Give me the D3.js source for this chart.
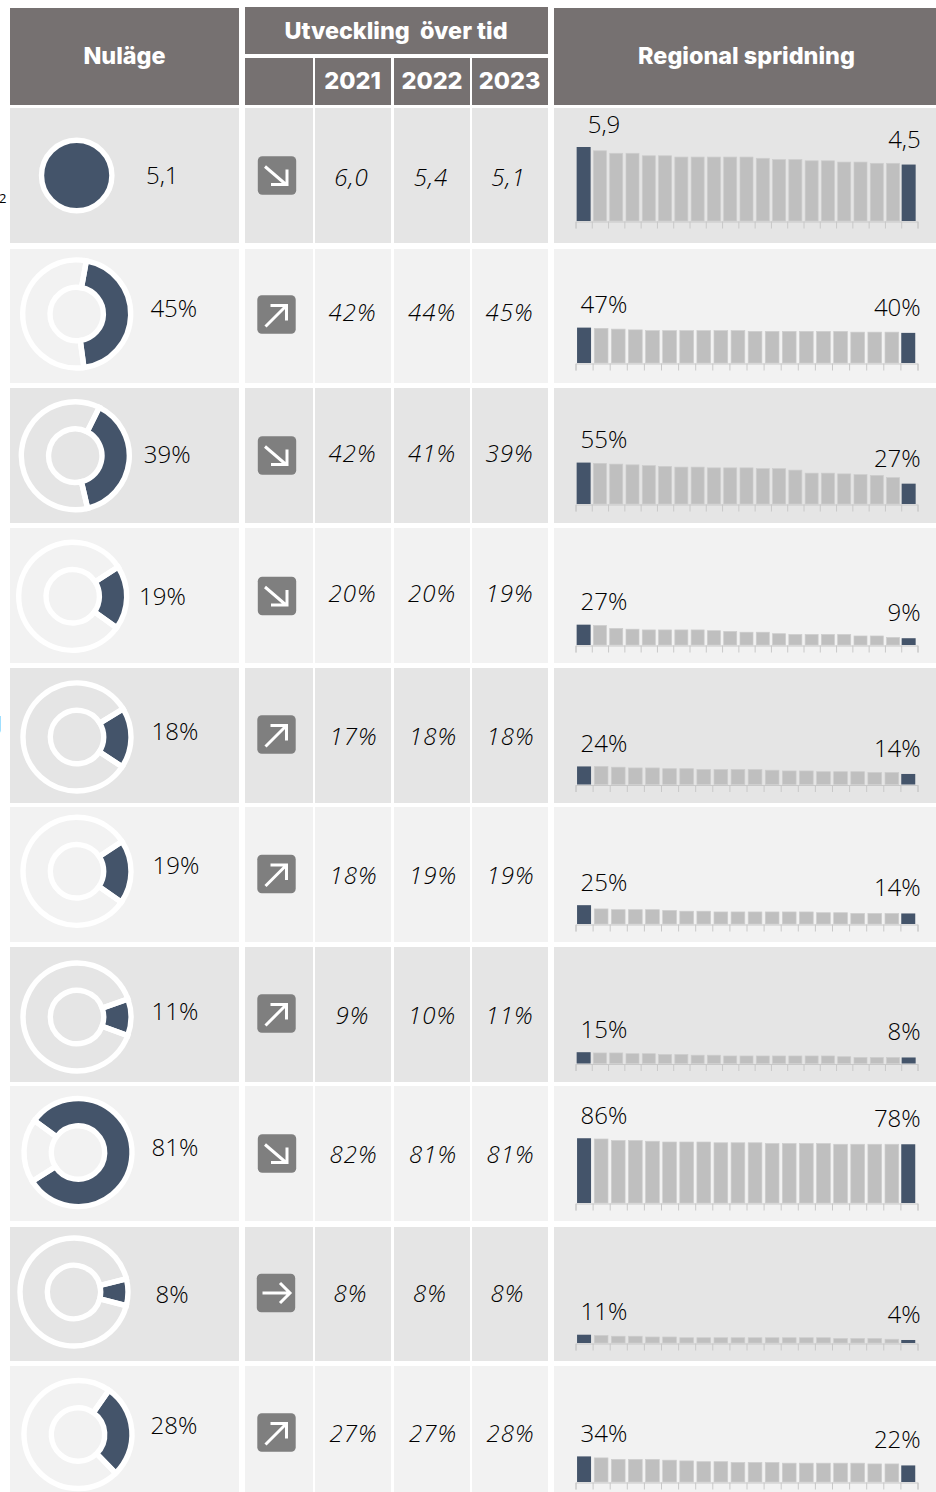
<!DOCTYPE html>
<html lang="sv">
<head>
  <meta charset="UTF-8" />
  <title>Nuläge, utveckling över tid och regional spridning</title>
  <script src="https://d3js.org/d3.v7.min.js"></script>
  <style>
    body { margin: 0; background: #fff; overflow: hidden; }
    svg { display: block; }
    text { font-family: "Open Sans", sans-serif; fill: #000; }
    .value { font-size: 24px; font-weight: 350; }
    .year-value { font-size: 24px; font-weight: 350; font-style: italic; letter-spacing: 1px; text-anchor: middle; }
    .head { font-family: "Inter", sans-serif; font-weight: 800; fill: #fff; text-anchor: middle; white-space: pre; }
    .axis path, .axis line { stroke: #c8c8c8; stroke-width: 1; }
  </style>
</head>
<body>
<svg id="chart" width="936" height="1492"></svg>

<script>
// data
const nowLabels = ["5,1", "45%", "39%", "19%", "18%", "19%", "11%", "81%", "8%", "28%"];
const nowShares = [100, 45, 39, 19, 18, 19, 11, 81, 8, 28];
const trends = ["down", "up", "down", "down", "up", "up", "up", "down", "flat", "up"];
const years = ["2021", "2022", "2023"];
const yearLabels = [
  ["6,0", "5,4", "5,1"],
  ["42%", "44%", "45%"],
  ["42%", "41%", "39%"],
  ["20%", "20%", "19%"],
  ["17%", "18%", "18%"],
  ["18%", "19%", "19%"],
  ["9%", "10%", "11%"],
  ["82%", "81%", "81%"],
  ["8%", "8%", "8%"],
  ["27%", "27%", "28%"]
];
const regionLabels = [
  ["5,9", "4,5"], ["47%", "40%"], ["55%", "27%"], ["27%", "9%"], ["24%", "14%"],
  ["25%", "14%"], ["15%", "8%"], ["86%", "78%"], ["11%", "4%"], ["34%", "22%"]
];
const regionValues = [
  [5.9, 5.6, 5.4, 5.4, 5.2, 5.2, 5.1, 5.1, 5.1, 5.1, 5.1, 5.0, 4.9, 4.9, 4.8, 4.8, 4.7, 4.7, 4.6, 4.6, 4.5],
  [47, 46, 45, 44, 43, 43, 43, 43, 43, 43, 42, 42, 42, 42, 42, 42, 41, 41, 41, 40],
  [55, 54, 53, 52, 51, 50, 49, 49, 48, 48, 48, 47, 47, 45, 41, 41, 40, 39, 38, 35, 27],
  [27, 26, 22, 21, 20, 20, 20, 20, 19, 18, 17, 17, 15, 14, 14, 14, 14, 12, 12, 10, 9],
  [24, 24, 23, 22, 22, 21, 21, 20, 20, 20, 20, 19, 18, 18, 17, 17, 17, 16, 16, 14],
  [25, 20, 19, 19, 19, 18, 17, 17, 16, 16, 16, 16, 16, 16, 15, 15, 14, 14, 14, 14],
  [15, 14, 14, 13, 13, 12, 12, 11, 11, 10, 10, 10, 10, 10, 10, 10, 9, 8, 8, 8, 8],
  [86, 85, 83, 83, 82, 81, 81, 81, 80, 80, 80, 79, 79, 79, 79, 78, 78, 78, 78, 78],
  [11, 10, 9, 9, 8, 8, 7, 7, 7, 7, 7, 7, 7, 7, 7, 6, 6, 6, 5, 4],
  [34, 32, 30, 30, 30, 29, 28, 27, 27, 26, 26, 26, 25, 25, 25, 25, 25, 24, 24, 22]
];

// layout, one entry per row
const rowTop = [108, 249, 388, 528, 668, 807, 947, 1086, 1227, 1366];
const rowBottom = [243, 383, 523, 663, 803, 942, 1082, 1221, 1361, 1492];
const donutX = [76.7, 76.7, 75.3, 72.7, 77, 77, 77, 78, 74, 78];
const donutY = [175.5, 314, 455.7, 596.3, 737, 871.3, 1017, 1152.5, 1292, 1434.5];
const donutTurn = [0, 1.3, 6.6, 1.4, 1, 0.6, 0.4, 2, 0.3, -4.6]; // degrees, the slices are not quite centred on 3 o'clock
const nowLabelX = [146, 150.4, 143.8, 139, 151.6, 152.6, 151.6, 151.6, 155.5, 150.6];
const nowLabelY = [184.3, 316.7, 462.7, 605, 740, 874, 1020, 1156, 1302.7, 1434];
const arrowX = [277, 276.5, 277, 277, 276.5, 276.5, 276.5, 277, 276, 276.5];
const arrowY = [175.5, 314.5, 455.5, 596, 734.5, 874, 1013.5, 1153.5, 1293, 1432.5];
const yearY = [186, 321, 462, 602, 745, 884, 1024, 1163, 1302, 1442];
const yearDx = [-1, 0, 0, 0, 1, 1, 0, 1, -2, 1];
const barBase = [221, 363, 504, 645, 784.5, 924, 1063.5, 1203, 1343, 1482];

const columns = [
  { x: 10, w: 229 }, { x: 245, w: 68 }, { x: 315, w: 76 },
  { x: 394, w: 76 }, { x: 472, w: 76 }, { x: 554, w: 382 }
];
const yearCx = [352.5, 432, 509.5];

const darkBlue = "#44546a", barGray = "#bfbfbf", headGray = "#767171";
const rowFill = i => i % 2 === 0 ? "#e5e5e5" : "#f2f2f2";

const svg = d3.select("#chart");

// leftovers of the neighbouring page, cut by the crop
svg.append("text").attr("x", -1).attr("y", 203).style("font-size", "13px").text("2");
svg.append("text").attr("x", -3.5).attr("y", 730).style("font-size", "20px").text("J");

// header
const head = svg.append("g");
const headRect = (x, y, w, h) => head.append("rect").attr("x", x).attr("y", y).attr("width", w).attr("height", h).attr("fill", headGray);
headRect(10, 8, 229, 97);
headRect(245, 7, 303, 47);
columns.slice(1, 5).forEach(c => headRect(c.x, 58, c.w, 47));
headRect(554, 8, 382, 97);
const headText = (x, y, size, t) => head.append("text").attr("class", "head").attr("x", x).attr("y", y).style("font-size", size + "px").text(t);
headText(124.5, 64, 23.4, "Nuläge");
headText(396, 39, 23.4, "Utveckling  över tid");
headText(746.5, 64, 23.4, "Regional spridning");
years.forEach((y, i) => headText(yearCx[i], 89, 23.5, y));

// row backgrounds
nowLabels.forEach((_, i) => {
  svg.append("g").selectAll("rect").data(columns).join("rect")
    .attr("x", d => d.x).attr("y", rowTop[i])
    .attr("width", d => d.w).attr("height", rowBottom[i] - rowTop[i])
    .attr("fill", rowFill(i));
});

// donuts
const arc = d3.arc().innerRadius(26.7).outerRadius(54);
const dot = d3.arc().innerRadius(0).outerRadius(35.2);
nowShares.forEach((share, i) => {
  const half = share / 100 * Math.PI;
  const pie = d3.pie().sort(null).startAngle(Math.PI / 2 - half).endAngle(Math.PI / 2 - half + 2 * Math.PI);
  const g = svg.append("g").attr("transform", `translate(${donutX[i]},${donutY[i]}) rotate(${donutTurn[i]})`);
  g.selectAll("path")
    .data(share === 100 ? pie([100]) : pie([share, 100 - share]))
    .join("path")
    .attr("d", share === 100 ? dot : arc)
    .attr("fill", (d, j) => j === 0 ? darkBlue : "none")
    .attr("stroke", "#fff")
    .attr("stroke-width", 5.4)
    .attr("stroke-linejoin", "miter");
  svg.append("text").attr("class", "value").attr("x", nowLabelX[i]).attr("y", nowLabelY[i]).text(nowLabels[i]);
});

// trend arrows
const arrowPaths = {
  down: "M-12,-9L9,9M-6,9H10V-6",
  up: "M-11,12L10,-9M-6,-9H10V6",
  flat: "M-13.5,0H13.5M4,-10L14,0L4,10"
};
trends.forEach((t, i) => {
  const g = svg.append("g").attr("transform", `translate(${arrowX[i]},${arrowY[i]})`);
  g.append("rect").attr("x", -19.2).attr("y", -19.2).attr("width", 38.4).attr("height", 38.4).attr("rx", 4.5).attr("fill", "#7f7f7f");
  g.append("path").attr("d", arrowPaths[t]).attr("fill", "none").attr("stroke", "#fff").attr("stroke-width", 3);
});

// year values
yearLabels.forEach((labels, i) => {
  svg.append("g").selectAll("text").data(labels).join("text")
    .attr("class", "year-value")
    .attr("x", (d, j) => yearCx[j] + yearDx[i])
    .attr("y", yearY[i])
    .text(d => d);
});

// regional bars
regionValues.forEach((values, i) => {
  const isRate = i === 0;
  const y = d3.scaleLinear().domain([0, isRate ? 5.9 : 100]).range([barBase[i], isRate ? barBase[i] - 74 : barBase[i] - 75.3]);
  const x = d3.scaleBand().domain(d3.range(values.length)).range([575.5, 917.5]).paddingInner(0.2).paddingOuter(0.1);
  const last = values.length - 1;
  const isEnd = j => j === 0 || j === last;
  const g = svg.append("g");
  g.selectAll("rect").data(values).join("rect")
    .attr("x", (d, j) => isEnd(j) ? x(j) + x.bandwidth() / 2 - 7 - (j === last ? 0.7 : 0) : x(j))
    .attr("width", (d, j) => isEnd(j) ? 14 : x.bandwidth())
    .attr("y", d => y(d))
    .attr("height", d => barBase[i] - y(d))
    .attr("fill", (d, j) => isEnd(j) ? darkBlue : barGray)
    .attr("stroke", (d, j) => isEnd(j) ? "none" : "#cdcdcd")
    .attr("stroke-width", 0.7);

  const tickScale = d3.scaleLinear().domain([0, values.length]).range([575.5, 917.5]);
  g.append("g").attr("class", "axis")
    .attr("transform", `translate(0,${barBase[i] + 0.5})`)
    .call(d3.axisBottom(tickScale).tickValues(d3.range(values.length + 1)).tickSize(7).tickFormat(""));

  g.append("text").attr("class", "value").attr("text-anchor", "middle")
    .attr("x", 604).attr("y", y(values[0]) - 14.5).text(regionLabels[i][0]);
  g.append("text").attr("class", "value").attr("text-anchor", "end")
    .attr("x", 920.7).attr("y", y(values[last]) - 17).text(regionLabels[i][1]);
});
</script>
</body>
</html>
